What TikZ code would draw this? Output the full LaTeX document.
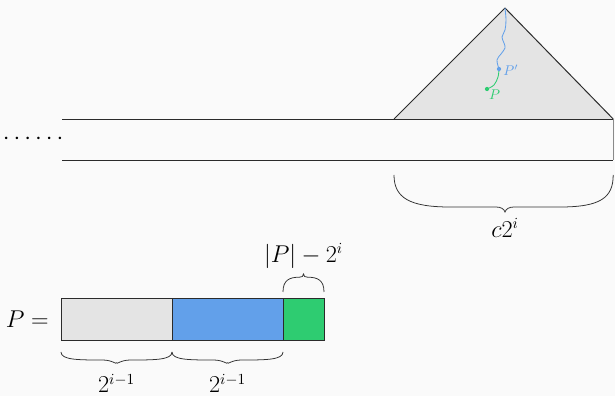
\documentclass[tikz,border=0pt]{standalone}
\usepackage{tikz}
\usetikzlibrary{arrows.meta,positioning,calc}
\usepackage{xcolor}
\usepackage{amsmath}
\definecolor{bg}{HTML}{FAFAFA}
\definecolor{edge}{HTML}{2B2B2B}
\definecolor{grayfill}{HTML}{E4E4E4}
\definecolor{segblue}{HTML}{62A0EA}
\definecolor{seggreen}{HTML}{2ECC71}
\definecolor{rim}{HTML}{8A8A8A}

\begin{document}
\begin{tikzpicture}[
  >=Stealth,
  lbl/.style={font=\fontsize{16pt}{19pt}\selectfont, text=black, inner sep=0pt},
  tiny/.style={font=\fontsize{10pt}{12pt}\selectfont, inner sep=0pt},
  seg/.style={draw=edge, line width=0.7pt, minimum height=1.05cm, inner sep=0pt, outer sep=0pt},
  brc/.style={draw=black!80, line width=0.55pt},
]

\fill[bg] (0,0) rectangle (15.375,9.9);
\useasboundingbox (0,0) rectangle (15.375,9.9);

% the tree on top of the strip
\coordinate (apex) at (12.625,9.7);
\coordinate (tl) at (9.85,6.925);
\coordinate (tr) at (15.33,6.925);
\fill[grayfill] (tl) -- (apex) -- (tr) -- cycle;
\draw[edge, line width=0.7pt, line join=round] (tl) -- (apex) -- (tr);

% the strip
\coordinate (sl) at (1.55,6.925);
\coordinate (bl) at (1.55,5.9);
\coordinate (br) at (15.33,5.9);
\draw[edge, line width=0.7pt] (sl) -- (tr);
\draw[edge, line width=0.7pt] (bl) -- (br);
\draw[rim, line width=0.6pt] (tr) -- (br);
\node[lbl, font=\fontsize{16pt}{19pt}\selectfont, anchor=center] (dots) at (0.88,6.43) {$\cdots\cdots$};

% paths inside the tree
\coordinate (pp) at (12.475,8.175);
\coordinate (p) at (12.175,7.675);
\draw[segblue, line width=0.6pt] plot[smooth, tension=0.6] coordinates {
  (apex) (12.65,9.4) (12.625,9.15) (12.55,8.975) (12.6,8.825)
  (12.625,8.7) (12.525,8.55) (12.425,8.4) (pp)};
\draw[seggreen, line width=0.6pt] plot[smooth, tension=0.6] coordinates {
  (pp) (12.45,7.975) (12.35,7.775) (p)};
\fill[segblue] (pp) circle (1.5pt);
\fill[seggreen] (p) circle (1.5pt);
\node[tiny, text=segblue, anchor=west] (lpp) at (12.58,8.15) {$P'$};
\node[tiny, text=seggreen, anchor=west] (lp) at (12.22,7.52) {$P$};

% brace under the strip
\draw[brc] (9.85,5.525) .. controls (9.85,4.95) and (10.25,4.725) .. (11.25,4.725)
  -- (12.4,4.725) .. controls (12.52,4.725) and (12.6,4.68) .. (12.625,4.6)
  .. controls (12.65,4.68) and (12.73,4.725) .. (12.85,4.725)
  -- (14.0,4.725) .. controls (15.0,4.725) and (15.33,4.95) .. (15.33,5.525);
\node[lbl, anchor=north] (c2i) at (12.625,4.45) {$c2^i$};

% the path P as segments
\node[seg, fill=grayfill, minimum width=2.775cm, anchor=south west] (s1) at (1.525,1.4) {};
\node[seg, fill=segblue, minimum width=2.775cm, anchor=west] (s2) at (s1.east) {};
\node[seg, fill=seggreen, minimum width=1.025cm, anchor=west] (s3) at (s2.east) {};
\node[lbl, anchor=east] (peq) at ([xshift=-0.3cm]s1.west) {$P =$};

% brace over the green part
\draw[brc] ($(s3.north west)+(0,0.15)$) .. controls +(0,0.3) and +(-0.25,0) .. ($(s3.north)+(-0.1,0.52)$)
  .. controls +(0.06,0) and +(0,-0.06) .. ($(s3.north)+(0,0.6)$)
  .. controls +(0,-0.06) and +(-0.06,0) .. ($(s3.north)+(0.1,0.52)$)
  .. controls +(0.25,0) and +(0,0.3) .. ($(s3.north east)+(0,0.15)$);
\node[lbl] (diff) at ($(s3.north)+(0,1.05)$) {$|P|-2^i$};

% braces under the gray and blue parts
\foreach \s/\n in {s1/b1, s2/b2} {
  \draw[brc] ($(\s.south west)+(0,-0.3)$) .. controls +(0,-0.2) and +(-0.6,0) .. ($(\s.south)+(-0.35,-0.5)$)
    .. controls +(0.25,0) and +(0,-0.05) .. ($(\s.south)+(0,-0.57)$)
    .. controls +(0,-0.05) and +(-0.25,0) .. ($(\s.south)+(0.35,-0.5)$)
    .. controls +(0.6,0) and +(0,-0.2) .. ($(\s.south east)+(0,-0.3)$);
  \node[lbl, anchor=north] (\n) at ($(\s.south)+(0,-0.84)$) {$2^{i-1}$};
}

\end{tikzpicture}
\end{document}
